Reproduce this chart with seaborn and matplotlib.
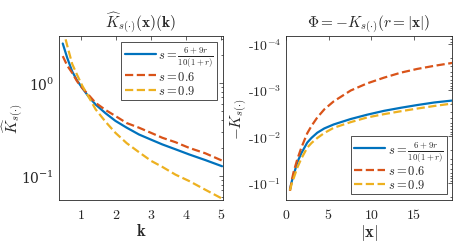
import numpy as np
import pandas as pd
import matplotlib
matplotlib.use("Agg")
import matplotlib.pyplot as plt
import matplotlib.ticker as mticker
import seaborn as sns

# ---- data ----
k_vals = [0.47, 0.6, 0.74, 0.88, 1.03, 1.2, 1.41, 1.7, 1.98, 2.3, 2.65, 3.0, 3.32, 3.7, 4.09, 4.55, 5.03]
khat_var = [2.65, 1.85, 1.33, 1.06, 0.88, 0.72, 0.585, 0.47, 0.39, 0.33, 0.279, 0.245, 0.218, 0.193, 0.17, 0.148, 0.127]
khat_06 = [1.94, 1.53, 1.28, 1.04, 0.88, 0.75, 0.61, 0.51, 0.44, 0.37, 0.33, 0.29, 0.257, 0.23, 0.2, 0.175, 0.146]
khat_09 = [3.9, 2.5, 1.6, 1.22, 0.93, 0.72, 0.52, 0.38, 0.29, 0.225, 0.18, 0.145, 0.125, 0.103, 0.088, 0.071, 0.057]

r_vals = [0.47, 0.7, 0.9, 1.33, 1.8, 2.5, 3.0, 3.67, 4.5, 5.6, 7.6, 9.5, 11.5, 13.5, 15.4, 17.4, 19.5]
phi_var = [0.138, 0.09, 0.068, 0.036, 0.023, 0.0135, 0.0107, 8.3e-3, 6.7e-3, 5.5e-3, 4.2e-3, 3.4e-3, 2.8e-3, 2.4e-3, 2.1e-3, 1.85e-3, 1.68e-3]
phi_06 = [0.148, 0.085, 0.058, 0.031, 0.0175, 0.0085, 5.9e-3, 3.9e-3, 2.6e-3, 1.75e-3, 1.02e-3, 7.2e-4, 5.4e-4, 4.2e-4, 3.5e-4, 3.0e-4, 2.6e-4]
phi_09 = [0.145, 0.1, 0.08, 0.047, 0.03, 0.0174, 0.0138, 0.0108, 8.4e-3, 6.5e-3, 4.9e-3, 3.9e-3, 3.3e-3, 2.85e-3, 2.5e-3, 2.2e-3, 1.95e-3]

labels = [r"$s=\frac{6+9r}{10(1+r)}$", r"$s=0.6$", r"$s=0.9$"]
colors = ["#0072BD", "#D95319", "#EDB120"]
styles = ["-", "--", "--"]

x_ticks_left = [1, 2, 3, 4, 5]
x_ticks_right = [0, 5, 10, 15]

sns.set_style("white")
plt.rcParams.update({
    "font.family": ["DejaVu Serif"],
    "mathtext.fontset": "cm",
    "axes.edgecolor": "#262626",
    "axes.linewidth": 0.6,
    "xtick.color": "#262626",
    "ytick.color": "#262626",
    "xtick.direction": "in",
    "ytick.direction": "in",
    "xtick.top": True,
    "ytick.right": True,
    "xtick.major.size": 3,
    "ytick.major.size": 3,
    "ytick.minor.size": 1.7,
    "xtick.major.width": 0.5,
    "ytick.major.width": 0.5,
    "ytick.minor.width": 0.5,
    "xtick.labelsize": 10,
    "ytick.labelsize": 10,
    "xtick.major.pad": 5,
})

fig = plt.figure(figsize=(4.75, 2.51), dpi=100)
axL = fig.add_axes([0.124, 0.199, 0.345, 0.654])
axR = fig.add_axes([0.602, 0.199, 0.350, 0.654])

dfL = pd.DataFrame({"k": k_vals, "v": khat_var, "a": khat_06, "b": khat_09})
dfR = pd.DataFrame({"r": r_vals, "v": phi_var, "a": phi_06, "b": phi_09})

for col, lab, c, ls in zip(["v", "a", "b"], labels, colors, styles):
    sns.lineplot(data=dfL, x="k", y=col, ax=axL, color=c, linestyle=ls, linewidth=1.6, label=lab)
    sns.lineplot(data=dfR, x="r", y=col, ax=axR, color=c, linestyle=ls, linewidth=1.6, label=lab)

def math_fmt(v, pos):
    return r"$%g$" % v

leg_kw = dict(fontsize=9, frameon=True, fancybox=False, framealpha=1,
              edgecolor="#333333", handlelength=2.5, handletextpad=0.2,
              labelspacing=0.1, borderpad=0.25)

# left panel
axL.set_yscale("log")
axL.set_xlim(0.36, 5.05)
axL.set_ylim(0.055, 3.2)
axL.set_xticks(x_ticks_left)
axL.xaxis.set_major_formatter(mticker.FuncFormatter(math_fmt))
axL.yaxis.set_major_locator(mticker.LogLocator(base=10, numticks=10))
axL.yaxis.set_minor_locator(mticker.LogLocator(base=10, subs=np.arange(2, 10), numticks=10))
axL.yaxis.set_minor_formatter(mticker.NullFormatter())
axL.set_title(r"$\widehat{K}_{s(\cdot)}(\mathbf{x})(\mathbf{k})$", fontsize=11, pad=6)
axL.set_xlabel(r"$\mathbf{k}$", fontsize=12, labelpad=1)
axL.set_ylabel(r"$\widehat{K}_{s(\cdot)}$", fontsize=11)
axL.yaxis.set_label_coords(-0.2, 0.5)
legL = axL.legend(loc="upper right", borderaxespad=0.45, **leg_kw)
legL.get_frame().set_linewidth(0.6)

# right panel
axR.set_yscale("log")
axR.set_xlim(0, 19.5)
axR.set_ylim(0.234, 6.8e-5)
axR.set_xticks(x_ticks_right)
axR.xaxis.set_major_formatter(mticker.FuncFormatter(math_fmt))
axR.yaxis.set_major_locator(mticker.LogLocator(base=10, numticks=10))
axR.yaxis.set_minor_locator(mticker.LogLocator(base=10, subs=np.arange(2, 10), numticks=10))
axR.yaxis.set_minor_formatter(mticker.NullFormatter())
axR.yaxis.set_major_formatter(mticker.FuncFormatter(
    lambda v, p: r"$\text{-}10^{%d}$" % int(round(np.log10(v)))))
axR.set_title(r"$\Phi=-K_{s(\cdot)}(r=|\mathbf{x}|)$", fontsize=11, pad=6)
axR.set_xlabel(r"$|\mathbf{x}|$", fontsize=12, labelpad=1)
axR.set_ylabel(r"$-K_{s(\cdot)}$", fontsize=11)
axR.yaxis.set_label_coords(-0.215, 0.5)
legR = axR.legend(loc="lower right", borderaxespad=0.45, **leg_kw)
legR.get_frame().set_linewidth(0.6)

for ax in (axL, axR):
    ax.tick_params(axis="x", which="minor", bottom=False, top=False)

fig.savefig("out.png", dpi=100)
